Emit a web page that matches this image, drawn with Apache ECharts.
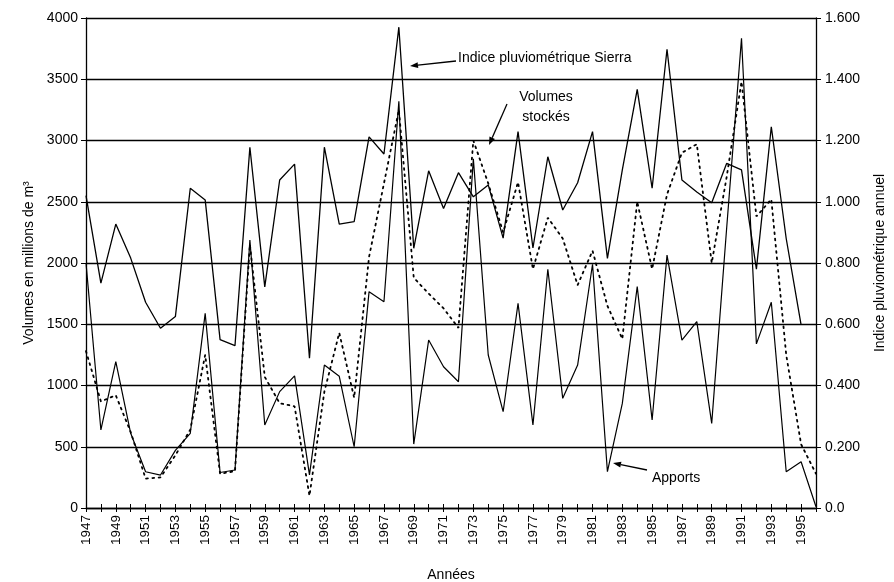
<!DOCTYPE html>
<html>
<head>
<meta charset="utf-8">
<script src="https://cdn.jsdelivr.net/npm/echarts@6/dist/echarts.min.js"></script>
<style>
html, body { margin: 0; padding: 0; background: #fff; }
#chart { width: 894px; height: 582px; }
</style>
</head>
<body>
<div id="chart"></div>
<script>
// années
const years = [1947, 1948, 1949, 1950, 1951, 1952, 1953, 1954, 1955, 1956,
	1957, 1958, 1959, 1960, 1961, 1962, 1963, 1964, 1965, 1966,
	1967, 1968, 1969, 1970, 1971, 1972, 1973, 1974, 1975, 1976,
	1977, 1978, 1979, 1980, 1981, 1982, 1983, 1984, 1985, 1986,
	1987, 1988, 1989, 1990, 1991, 1992, 1993, 1994, 1995, 1996];

// indice pluviométrique Sierra (axe de droite)
const indice = [1.020, 0.734, 0.927, 0.816, 0.672, 0.587, 0.625, 1.044, 1.006, 0.550,
	0.530, 1.178, 0.722, 1.071, 1.123, 0.489, 1.178, 0.927, 0.935, 1.212,
	1.156, 1.570, 0.848, 1.101, 0.978, 1.095, 1.016, 1.055, 0.881, 1.229,
	0.849, 1.147, 0.973, 1.062, 1.229, 0.815, 1.104, 1.367, 1.044, 1.498,
	1.071, 1.032, 0.997, 1.125, 1.104, 0.780, 1.245, 0.880, 0.598, null];

// apports (millions de m3)
const apports = [2000, 637, 1194, 610, 296, 269, 470, 610, 1589, 290,
	310, 2188, 678, 950, 1078, 270, 1167, 1075, 500, 1766,
	1684, 3320, 522, 1371, 1153, 1031, 2850, 1249, 786, 1671,
	678, 1949, 895, 1167, 1990, 296, 854, 1807, 718, 2065,
	1371, 1521, 691, 2280, 3834, 1340, 1680, 296, 378, 10];

// volumes stockés (millions de m3)
const volumes = [1280, 870, 920, 620, 240, 250, 430, 640, 1250, 280,
	300, 2150, 1070, 855, 830, 100, 950, 1430, 900, 2050,
	2650, 3250, 1880, 1750, 1630, 1470, 3000, 2650, 2250, 2660,
	1950, 2370, 2200, 1820, 2100, 1650, 1380, 2500, 1950, 2560,
	2900, 2970, 2000, 2700, 3480, 2380, 2520, 1250, 520, 280];

const font = 'Liberation Sans, Arial, Helvetica, sans-serif';

const pairs = function (arr) {
	return years.map(function (y, i) { return [y, arr[i]]; });
};

// petite flèche pour les annotations
const arrow = function (x1, y1, x2, y2) {
	const a = Math.atan2(y2 - y1, x2 - x1);
	const L = 8, W = 3;
	const bx = x2 - L * Math.cos(a), by = y2 - L * Math.sin(a);
	return [{
		type: 'line',
		shape: { x1: x1, y1: y1, x2: bx, y2: by },
		style: { stroke: '#000', lineWidth: 1.3 }
	}, {
		type: 'polygon',
		shape: { points: [[x2, y2], [bx - W * Math.sin(a), by + W * Math.cos(a)], [bx + W * Math.sin(a), by - W * Math.cos(a)]] },
		style: { fill: '#000' }
	}];
};

const txt = function (x, y, text, align) {
	return {
		type: 'text', x: x, y: y,
		style: { text: text, font: '14px ' + font, fill: '#000', align: align || 'left', verticalAlign: 'middle' }
	};
};

const chart = echarts.init(document.getElementById('chart'));

const option = {
	backgroundColor: '#fff',
	animation: false,
	grid: { left: 86, right: 78, top: 18, bottom: 74, outerBoundsMode: 'none' },
	xAxis: [{
		type: 'value',
		min: 1947, max: 1996, interval: 1,
		name: 'Années',
		nameLocation: 'middle',
		nameGap: 60,
		nameTextStyle: { fontFamily: font, fontSize: 14, color: '#000' },
		axisLine: { lineStyle: { color: '#000', width: 1.3 } },
		axisTick: { length: 4, lineStyle: { color: '#000' } },
		axisLabel: {
			rotate: 90, margin: 7,
			fontFamily: font, fontSize: 13.5, color: '#000',
			formatter: function (v) { return v % 2 === 1 ? String(v) : ''; }
		},
		splitLine: { show: false }
	}, {
		// ticks vers l'intérieur (croix sur l'axe)
		type: 'value', position: 'bottom',
		min: 1947, max: 1996, interval: 1,
		axisLine: { show: false },
		axisTick: { inside: true, length: 4, lineStyle: { color: '#000' } },
		axisLabel: { show: false },
		splitLine: { show: false }
	}],
	yAxis: [{
		type: 'value',
		min: 0, max: 4000, interval: 500,
		name: 'Volumes en millions de m³',
		nameLocation: 'middle',
		nameGap: 49,
		nameRotate: 90,
		nameTextStyle: { fontFamily: font, fontSize: 14, color: '#000' },
		axisLine: { show: true, lineStyle: { color: '#000', width: 1.3 } },
		axisTick: { show: true, length: 5, lineStyle: { color: '#000' } },
		axisLabel: {
			margin: 8, fontFamily: font, fontSize: 14, color: '#000',
			formatter: function (v) { return String(v); }
		},
		splitLine: { show: true, lineStyle: { color: '#000', width: 1.4 } }
	}, {
		type: 'value',
		min: 0, max: 1.6, interval: 0.2,
		position: 'right',
		name: 'Indice pluviométrique annuel',
		nameLocation: 'middle',
		nameGap: 57,
		nameRotate: 90,
		nameTextStyle: { fontFamily: font, fontSize: 14, color: '#000' },
		axisLine: { show: true, lineStyle: { color: '#000', width: 1.3 } },
		axisTick: { show: true, length: 5, lineStyle: { color: '#000' } },
		axisLabel: {
			margin: 9, fontFamily: font, fontSize: 14, color: '#000',
			formatter: function (v) { return v === 0 ? '0.0' : v.toFixed(3); }
		},
		splitLine: { show: false }
	}],
	series: [{
		name: 'Indice pluviométrique Sierra',
		type: 'line',
		yAxisIndex: 1,
		data: pairs(indice),
		symbol: 'none',
		lineStyle: { color: '#000', width: 1.3 }
	}, {
		name: 'Apports',
		type: 'line',
		data: pairs(apports),
		symbol: 'none',
		lineStyle: { color: '#000', width: 1.2 }
	}, {
		name: 'Volumes stockés',
		type: 'line',
		data: pairs(volumes),
		symbol: 'none',
		lineStyle: { color: '#000', width: 1.8, type: [1.8, 4.5], cap: 'round' }
	}],
	graphic: [].concat(
		[txt(458, 58, 'Indice pluviométrique Sierra')],
		arrow(456, 61, 410, 66),
		[txt(546, 97, 'Volumes', 'center'), txt(546, 117, 'stockés', 'center')],
		arrow(507, 104, 489, 145),
		[txt(652, 478, 'Apports')],
		arrow(647, 470, 613, 463)
	)
};

chart.setOption(option);
</script>
</body>
</html>
